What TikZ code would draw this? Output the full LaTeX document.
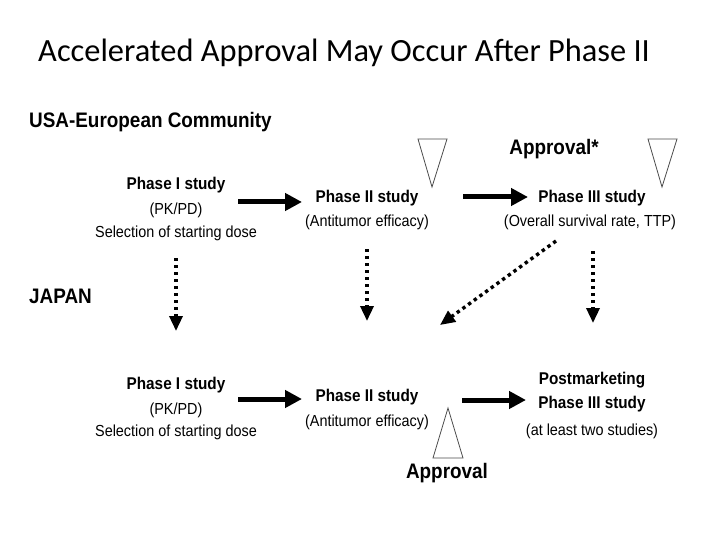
\documentclass[tikz,border=0pt]{standalone}
\usepackage{fontspec}
\usetikzlibrary{arrows.meta}
\newfontfamily\titlefont{Carlito}
\newfontfamily\dg[FakeStretch=0.9]{Liberation Sans}
\tikzset{
  hd/.style={font=\dg\bfseries\fontsize{21}{23}\selectfont, inner sep=0pt, anchor=west},
  bl/.style={font=\dg\bfseries\fontsize{17}{19}\selectfont, inner sep=0pt},
  rg/.style={font=\dg\fontsize{16}{18}\selectfont, inner sep=0pt},
  ap/.style={font=\dg\bfseries\fontsize{21}{23}\selectfont, inner sep=0pt},
  solidarrow/.style={line width=5pt, -{Triangle[length=17pt,width=17pt]}},
  dotarrow/.style={line width=3.4pt, dash pattern=on 3.4pt off 3.6pt, -{Triangle[length=15pt,width=13pt]}},
  tri/.style={draw=black!70, line width=0.8pt, line join=miter}
}
\begin{document}
\begin{tikzpicture}[x=1pt,y=-1pt]
\useasboundingbox (0,0) rectangle (720,540);
\fill[white] (0,0) rectangle (720,540);
\node[font=\titlefont\fontsize{32.4}{36}\selectfont, inner sep=0pt] (title) at (344,53) {Accelerated Approval May Occur After Phase II};

\node[hd] (usa) at (29,122) {USA-European Community};
\node[hd] (japan) at (29,296) {JAPAN};

% top row
\node[bl] (t1a) at (176,185) {Phase I study};
\node[rg] (t1b) at (176,210) {(PK/PD)};
\node[rg] (t1c) at (176,233) {Selection of starting dose};
\node[bl] (t2a) at (367,198) {Phase II study};
\node[rg] (t2b) at (367,222) {(Antitumor efficacy)};
\node[bl] (t3a) at (592,198) {Phase III study};
\node[rg] (t3b) at (590,222) {(Overall survival rate, TTP)};
\node[ap] (appr1) at (554,149) {Approval*};

% bottom row
\node[bl] (b1a) at (176,385) {Phase I study};
\node[rg] (b1b) at (176,410) {(PK/PD)};
\node[rg] (b1c) at (176,432) {Selection of starting dose};
\node[bl] (b2a) at (367,397) {Phase II study};
\node[rg] (b2b) at (367,422) {(Antitumor efficacy)};
\node[bl] (b3a) at (592,380) {Postmarketing};
\node[bl] (b3b) at (592,404) {Phase III study};
\node[rg] (b3c) at (592,431) {(at least two studies)};
\node[ap] (appr2) at (447,473) {Approval};

% triangles
\draw[tri] (418,139) -- (447,139) -- (432,187) -- cycle;
\draw[tri] (648,139) -- (677,139) -- (662,187) -- cycle;
\draw[tri] (448,408) -- (463,458) -- (433,458) -- cycle;

% solid arrows
\coordinate (s1) at (238,202); \coordinate (e1) at (302,202);
\coordinate (s2) at (463,197); \coordinate (e2) at (528,197);
\coordinate (s3) at (238,399); \coordinate (e3) at (302,399);
\coordinate (s4) at (462,400); \coordinate (e4) at (526,400);
\draw[solidarrow] (s1) -- (e1);
\draw[solidarrow] (s2) -- (e2);
\draw[solidarrow] (s3) -- (e3);
\draw[solidarrow] (s4) -- (e4);

% dotted arrows
\coordinate (d1s) at (176,258); \coordinate (d1e) at (176,331);
\coordinate (d2s) at (367,249); \coordinate (d2e) at (367,321);
\coordinate (d3s) at (593,251); \coordinate (d3e) at (593,323);
\coordinate (d4s) at (556,241); \coordinate (d4e) at (440,325);
\draw[dotarrow] (d1s) -- (d1e);
\draw[dotarrow] (d2s) -- (d2e);
\draw[dotarrow] (d3s) -- (d3e);
\draw[dotarrow] (d4s) -- (d4e);
\end{tikzpicture}
\end{document}
